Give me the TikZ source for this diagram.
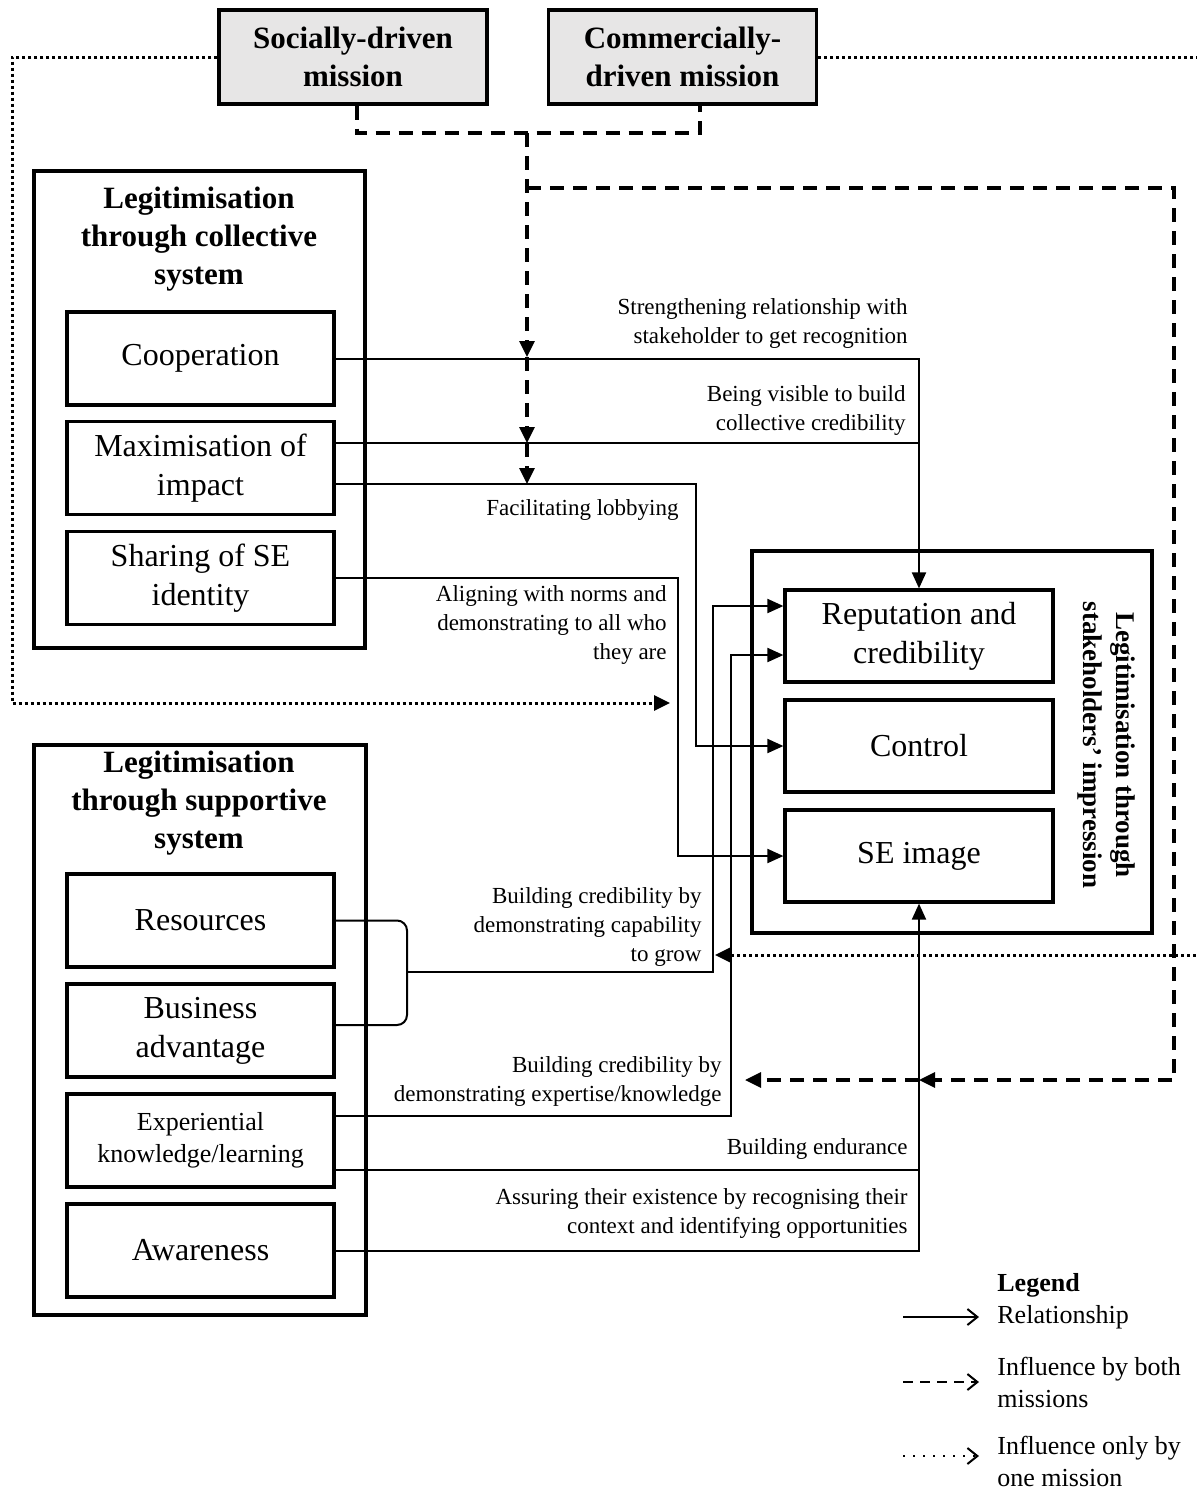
\documentclass[tikz,border=0pt]{standalone}
\usepackage{fontspec}
\setmainfont{Liberation Serif}
\usetikzlibrary{arrows.meta}
\definecolor{missiongray}{RGB}{231,230,230}

\begin{document}
\begin{tikzpicture}[x=0.5pt, y=-0.5pt,
    box/.style={draw, line width=1.6pt, minimum width=133.5pt, minimum height=46.5pt, align=center, inner sep=2pt, font=\fontsize{16}{19.5}\selectfont},
    outerbox/.style={draw, line width=1.6pt, inner sep=0pt},
    mission/.style={draw, line width=1.6pt, fill=missiongray, minimum width=134pt, minimum height=47pt, align=center, font=\bfseries\fontsize{15.5}{19}\selectfont},
    boxtitle/.style={align=center, inner sep=0pt, font=\bfseries\fontsize{15.5}{19}\selectfont},
    lbl/.style={align=right, inner sep=0pt, anchor=east, font=\fontsize{11.5}{14.5}\selectfont},
    legtext/.style={align=left, inner sep=0pt, anchor=west, font=\fontsize{13}{16}\selectfont},
    conn/.style={line width=1pt},
    rel/.style={conn, -{Triangle[length=8pt,width=7pt]}},
    both/.style={line width=1.6pt, dash pattern=on 7pt off 4.5pt, -{Triangle[length=8pt,width=7.5pt]}},
    one/.style={line width=1.5pt, dash pattern=on 1.5pt off 1.5pt, -{Triangle[length=8pt,width=7.5pt]}},
    legtip/.style={-{Straight Barb[length=5pt,width=8pt,line width=1pt]}}
  ]
  \useasboundingbox (0,0) rectangle (1196,1490);

  % Missions
  \node (social) [mission] at (353,57) {Socially-driven\\mission};
  \node (commercial) [mission] at (682.5,57) {Commercially-\\driven mission};

  % Collective system
  \node (colsys) [outerbox, minimum width=165.5pt, minimum height=238.5pt] at (199.5,409.5) {};
  \node (coltitle) [boxtitle] at (199,239) {Legitimisation\\through collective\\system};
  \node (coop) [box] at (200.5,358.5) {Cooperation};
  \node (maxi) [box] at (200.5,468) {Maximisation of\\impact};
  \node (share) [box] at (200.5,578) {Sharing of SE\\identity};

  % Supportive system
  \node (supsys) [outerbox, minimum width=166pt, minimum height=285pt] at (200,1030) {};
  \node (suptitle) [boxtitle] at (199,803) {Legitimisation\\through supportive\\system};
  \node (res) [box] at (200.5,920.5) {Resources};
  \node (bus) [box] at (200.5,1030.5) {Business\\advantage};
  \node (exp) [box, font=\fontsize{13}{16}\selectfont] at (200.5,1140.5) {Experiential\\knowledge/learning};
  \node (aware) [box] at (200.5,1250.5) {Awareness};

  % Stakeholders' impression
  \node (stake) [outerbox, minimum width=200pt, minimum height=191pt] at (952,742) {};
  \node (stktitle) [boxtitle, rotate=-90, font=\bfseries\fontsize{13.5}{16.5}\selectfont] at (1106,745) {Legitimisation through\\stakeholders’ impression};
  \node (rep) [box, minimum width=134pt, minimum height=46pt] at (919,636) {Reputation and\\credibility};
  \node (ctrl) [box, minimum width=134pt, minimum height=46pt] at (919,746) {Control};
  \node (img) [box, minimum width=134pt, minimum height=46pt] at (919,856) {SE image};

  % Junctions
  \coordinate (visJ) at (919,443);
  \coordinate (lobJ) at (696,484);
  \coordinate (alignJ) at (678,578);
  \coordinate (brk) at (407,972);
  \coordinate (grow) at (713,972);
  \coordinate (growTop) at (713,606);
  \coordinate (expBot) at (731,1116);
  \coordinate (expTop) at (731,655);
  \coordinate (endJ) at (919,1170);

  % Relationships
  \draw[rel] (coop.east) -| (rep.north);
  \draw[conn] (maxi.east |- visJ) -- (visJ);
  \draw[rel] (maxi.east |- lobJ) -- (lobJ) |- (ctrl.west);
  \draw[rel] (share.east) -- (alignJ) |- (img.west);
  \draw[conn, rounded corners=5pt] (res.east) -- (407,920.5) -- (407,1025) -- (bus.east |- 0,1025);
  \draw[rel] (brk) -- (grow) -- (growTop) -- (rep.west |- growTop);
  \draw[rel] (exp.east |- expBot) -- (expBot) -- (expTop) -- (rep.west |- expTop);
  \draw[conn] (exp.east |- endJ) -- (endJ);
  \draw[rel] (aware.east) -| (img.south);

  % Labels
  \node (lblStr) [lbl] at (908,323.5) {Strengthening relationship with\\stakeholder to get recognition};
  \node (lblVis) [lbl] at (906,410.5) {Being visible to build\\collective credibility};
  \node (lblLob) [lbl] at (679,510) {Facilitating lobbying};
  \node (lblAlign) [lbl] at (667,625) {Aligning with norms and\\demonstrating to all who\\they are};
  \node (lblGrow) [lbl] at (702,927) {Building credibility by\\demonstrating capability\\to grow};
  \node (lblExp) [lbl] at (722,1081.5) {Building credibility by\\demonstrating expertise/knowledge};
  \node (lblEnd) [lbl] at (908,1149) {Building endurance};
  \node (lblAss) [lbl] at (908,1213) {Assuring their existence by recognising their\\context and identifying opportunities};

  % Influence by both missions
  \coordinate (mj) at (527,133);
  \coordinate (dA) at (527,357);
  \coordinate (dB) at (527,443);
  \coordinate (dC) at (527,484);
  \coordinate (dTop) at (527,188);
  \coordinate (dMid) at (919,1080);
  \coordinate (dEnd) at (745,1080);
  \draw[both, -] ([xshift=2pt]social.south) |- ([xshift=8.75pt]commercial.south |- mj) -- ([xshift=8.75pt]commercial.south);
  \draw[both] (mj) -- (dA);
  \draw[both] (dA) -- (dB);
  \draw[both] (dB) -- (dC);
  \draw[both] (dTop) -- (1174,188) -- (1174,1080) -- (dMid);
  \draw[both] (dMid) -- (dEnd);

  % Influence only by one mission
  \coordinate (dotL) at (12,703);
  \coordinate (dotLend) at (670,703);
  \coordinate (dotR) at (1206,955);
  \coordinate (dotRend) at (715,955);
  \draw[one] (social.west) -| (dotL) -- (dotLend);
  \draw[one] (commercial.east) -- (1206,57) -- (dotR) -- (dotRend);

  % Legend
  \node (leg) [legtext, font=\bfseries\fontsize{13}{16}\selectfont] at (997,1285) {Legend};
  \node (lrel) [legtext] at (997,1317) {Relationship};
  \node (lboth) [legtext] at (997,1382) {Influence by both\\missions};
  \node (lone) [legtext] at (997,1461) {Influence only by\\one mission};
  \draw[conn, legtip] ([xshift=-47pt]lrel.west) -- ([xshift=-9pt]lrel.west);
  \draw[line width=1.2pt, dash pattern=on 5pt off 3.5pt, legtip] ([xshift=-47pt]lboth.west) -- ([xshift=-9pt]lboth.west);
  \draw[line width=0.8pt, dash pattern=on 1pt off 4pt, legtip] ([xshift=-47pt]lone.west |- 0,1456) -- ([xshift=-9pt]lone.west |- 0,1456);
\end{tikzpicture}
\end{document}
